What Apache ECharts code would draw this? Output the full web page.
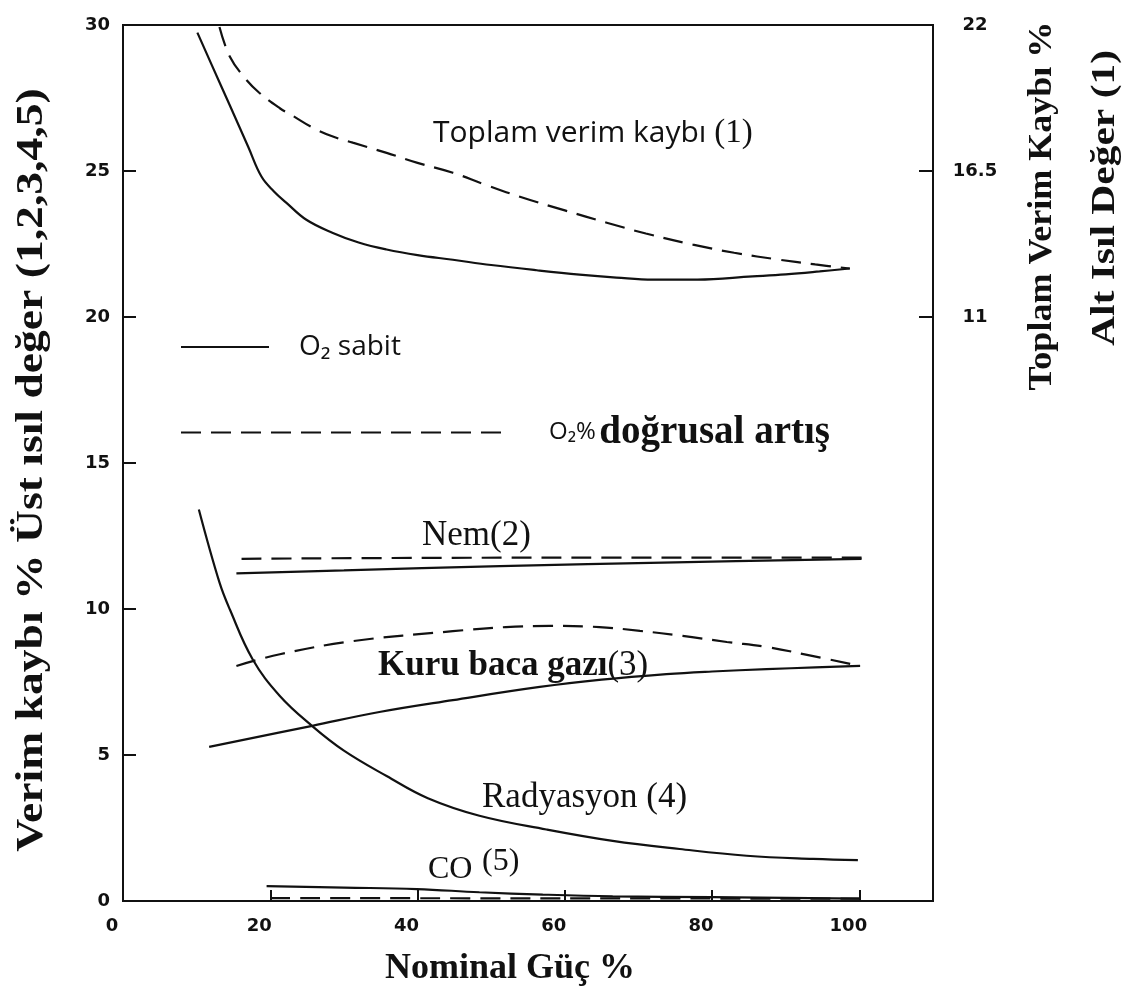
<!DOCTYPE html>
<html><head><meta charset="utf-8">
<script src="https://cdn.jsdelivr.net/npm/echarts@6/dist/echarts.min.js"></script>
<style>html,body{margin:0;padding:0;background:#fff}#c{width:1128px;height:992px}</style>
</head><body><div id="c"></div>
<script>
// ---- data (x = Nominal Güç %, y = Verim kaybı %) ----
const SOLID = 'O₂ sabit';
const DASHED = 'O₂% doğrusal artış';

const xTickLabels = [0, 20, 40, 60, 80, 100];
const yTickLabels = [0, 5, 10, 15, 20, 25, 30];
const rightTickLabels = [11, 16.5, 22];

// Toplam verim kaybı (1)
const totalConstX = [10.1, 12, 14.5, 17, 18.8, 20.5, 22.2, 24.9, 28.5, 32, 35.8, 40, 44.8, 50, 56.2, 62, 67, 72, 78, 85.5, 90, 94.6, 98.7];
const totalConstY = [29.74, 28.66, 27.25, 25.83, 24.81, 24.3, 23.91, 23.33, 22.88, 22.55, 22.31, 22.12, 21.96, 21.78, 21.6, 21.45, 21.35, 21.28, 21.28, 21.39, 21.46, 21.56, 21.66];
const totalLinX = [13.1, 14.5, 16.5, 18.5, 21.3, 23.0, 25.8, 28.5, 31.2, 35.8, 40, 44.8, 49, 53.9, 60, 65.7, 71, 77.4, 83, 89.2, 94, 98.7];
const totalLinY = [29.93, 28.92, 28.2, 27.68, 27.15, 26.9, 26.48, 26.18, 25.97, 25.62, 25.28, 24.94, 24.55, 24.12, 23.65, 23.23, 22.86, 22.48, 22.2, 21.96, 21.8, 21.66];

// Nem (2)
const nemConstX = [15.4, 30, 51.2, 75, 100.3];
const nemConstY = [11.22, 11.32, 11.47, 11.6, 11.72];
const nemLinX = [16.1, 40, 70, 100.3];
const nemLinY = [11.72, 11.75, 11.76, 11.76];

// Kuru baca gazı (3)
const dryConstX = [11.7, 25.7, 35, 44.8, 56.6, 65, 73.8, 80, 87.4, 94, 100.1];
const dryConstY = [5.28, 6.0, 6.48, 6.88, 7.33, 7.58, 7.77, 7.86, 7.94, 8.0, 8.05];
const dryLinX = [15.4, 21.3, 31.2, 44.8, 52, 58, 64.7, 70.2, 76.0, 82, 87.4, 92.9, 100.1];
const dryLinY = [8.05, 8.45, 8.9, 9.24, 9.38, 9.42, 9.38, 9.25, 9.08, 8.87, 8.70, 8.43, 8.05];

// Radyasyon (4)
const radX = [10.3, 13.1, 14.5, 17.6, 21.3, 25.7, 30, 35.8, 41.4, 48.4, 57.5, 66.5, 75.6, 84.7, 93.7, 99.8];
const radY = [13.41, 10.91, 9.99, 8.28, 7.02, 5.99, 5.15, 4.28, 3.52, 2.92, 2.45, 2.06, 1.78, 1.55, 1.44, 1.40];

// CO (5)
const coConstX = [19.5, 30, 39.9, 48.4, 57, 66.5, 80.1, 100];
const coConstY = [0.51, 0.46, 0.41, 0.30, 0.22, 0.16, 0.13, 0.08];
const coLinX = [20, 60, 100];
const coLinY = [0.1, 0.09, 0.08];

// ---- chart ----
const INK = '#111';
const zip = (xs, ys) => xs.map((x, i) => [x, ys[i]]);
function mk(name, xs, ys, dashed) {
  return {
    type: 'line', name: name, data: zip(xs, ys), symbol: 'none', smooth: 0.4,
    color: INK,
    lineStyle: { color: INK, width: 2.2, type: dashed ? [20, 10] : 'solid' }
  };
}
const series = [
  mk(SOLID, totalConstX, totalConstY, false),
  mk(DASHED, totalLinX, totalLinY, true),
  mk(SOLID, nemConstX, nemConstY, false),
  mk(DASHED, nemLinX, nemLinY, true),
  mk(SOLID, dryConstX, dryConstY, false),
  mk(DASHED, dryLinX, dryLinY, true),
  mk(SOLID, radX, radY, false),
  mk(SOLID, coConstX, coConstY, false),
  mk(DASHED, coLinX, coLinY, true)
];

const tickFont = { fontFamily: 'DejaVu Sans', fontWeight: 'bold', fontSize: 18, color: INK };
function txt(x, y, text, style, extra) {
  return Object.assign({
    type: 'text', x: x, y: y, silent: true,
    style: Object.assign({ text: text, fill: INK, align: 'left', verticalAlign: 'middle',
      textAlign: 'left', textVerticalAlign: 'middle' }, style)
  }, extra || {});
}
const serif = '"Liberation Serif", "Times New Roman", serif';

const chart = echarts.init(document.getElementById('c'), null, { renderer: 'canvas' });
chart.setOption({
  animation: false,
  backgroundColor: '#fff',
  grid: { left: 123, right: 195, top: 25, bottom: 90, show: true, borderColor: INK, borderWidth: 2, backgroundColor: 'transparent' },
  xAxis: {
    type: 'value', min: 0, max: 110, interval: 20,
    name: 'Nominal Güç %', nameLocation: 'middle', nameGap: 50,
    nameTextStyle: { fontFamily: serif, fontWeight: 'bold', fontSize: 36, color: INK, padding: [0, 36, 0, 0] },
    axisLine: { show: true, lineStyle: { color: INK, width: 2 } },
    axisTick: { show: true, inside: true, length: 11, customValues: [20, 40, 60, 80, 100], lineStyle: { color: INK, width: 2 } },
    axisLabel: Object.assign({ customValues: xTickLabels, margin: 16, padding: [0, 22, 0, 0] }, tickFont),
    splitLine: { show: false }
  },
  yAxis: [
    {
      type: 'value', min: 0, max: 30, interval: 5, position: 'left',
      axisLine: { show: true, lineStyle: { color: INK, width: 2 } },
      axisTick: { show: true, inside: true, length: 13, customValues: [5, 10, 15, 20, 25], lineStyle: { color: INK, width: 2 } },
      axisLabel: Object.assign({ customValues: yTickLabels, margin: 13, padding: [0, 0, 14, 0] }, tickFont),
      splitLine: { show: false }
    },
    {
      type: 'value', min: -11, max: 22, interval: 5.5, position: 'right',
      axisLine: { show: true, lineStyle: { color: INK, width: 2 } },
      axisTick: { show: true, inside: true, length: 14, customValues: [11, 16.5], lineStyle: { color: INK, width: 2 } },
      axisLabel: Object.assign({ customValues: rightTickLabels, margin: 42, align: 'center', padding: [0, 0, 10, 0] }, tickFont),
      splitLine: { show: false }
    }
  ],
  legend: [
    {
      data: [SOLID], left: 180, top: 330, padding: 0, itemWidth: 88, itemHeight: 14, selectedMode: false,
      itemStyle: { opacity: 0 },
      textStyle: { fontFamily: 'Open Sans', fontSize: 28, color: INK, lineHeight: 34, padding: [0, 0, 0, 25] }
    },
    {
      data: [DASHED], left: 180, top: 413, padding: 0, itemWidth: 330, itemHeight: 14, selectedMode: false,
      itemStyle: { opacity: 0 },
      formatter: function () { return '{a|O₂%} {b|doğrusal artış}'; },
      textStyle: {
        color: INK, padding: [0, 0, 0, 33],
        rich: {
          a: { fontFamily: 'Open Sans', fontSize: 24, color: INK },
          b: { fontFamily: serif, fontWeight: 'bold', fontSize: 39, color: INK }
        }
      }
    }
  ],
  graphic: [
    // axis titles
    txt(32, 470, 'Verim kaybı % Üst ısıl değer (1,2,3,4,5)',
      { font: 'bold 38px ' + serif, align: 'center', textAlign: 'center' },
      { rotation: Math.PI / 2, scaleX: 1.2 }),
    txt(1042, 206, 'Toplam Verim Kaybı %',
      { font: 'bold 34px ' + serif, align: 'center', textAlign: 'center' },
      { rotation: Math.PI / 2, scaleX: 1.06 }),
    txt(1105, 198, 'Alt Isıl Değer (1)',
      { font: 'bold 34px ' + serif, align: 'center', textAlign: 'center' },
      { rotation: Math.PI / 2, scaleX: 1.22 }),
    // curve annotations
    txt(433, 133, '{a|Toplam verim kaybı }{b|(1)}', {
      rich: { a: { fontFamily: 'Open Sans', fontSize: 30, fill: INK }, b: { fontFamily: serif, fontSize: 33, fill: INK } }
    }),
    txt(422, 536, 'Nem(2)', { font: '35px ' + serif }),
    txt(378, 666, '{a|Kuru baca gazı}{b|(3)}', {
      rich: { a: { fontFamily: serif, fontWeight: 'bold', fontSize: 35, fill: INK }, b: { fontFamily: serif, fontSize: 35, fill: INK } }
    }),
    txt(482, 798, 'Radyasyon (4)', { font: '35px ' + serif }),
    txt(428, 870, 'CO', { font: '32px ' + serif }),
    txt(482, 862, '(5)', { font: '32px ' + serif })
  ],
  series: series
});
</script></body></html>
